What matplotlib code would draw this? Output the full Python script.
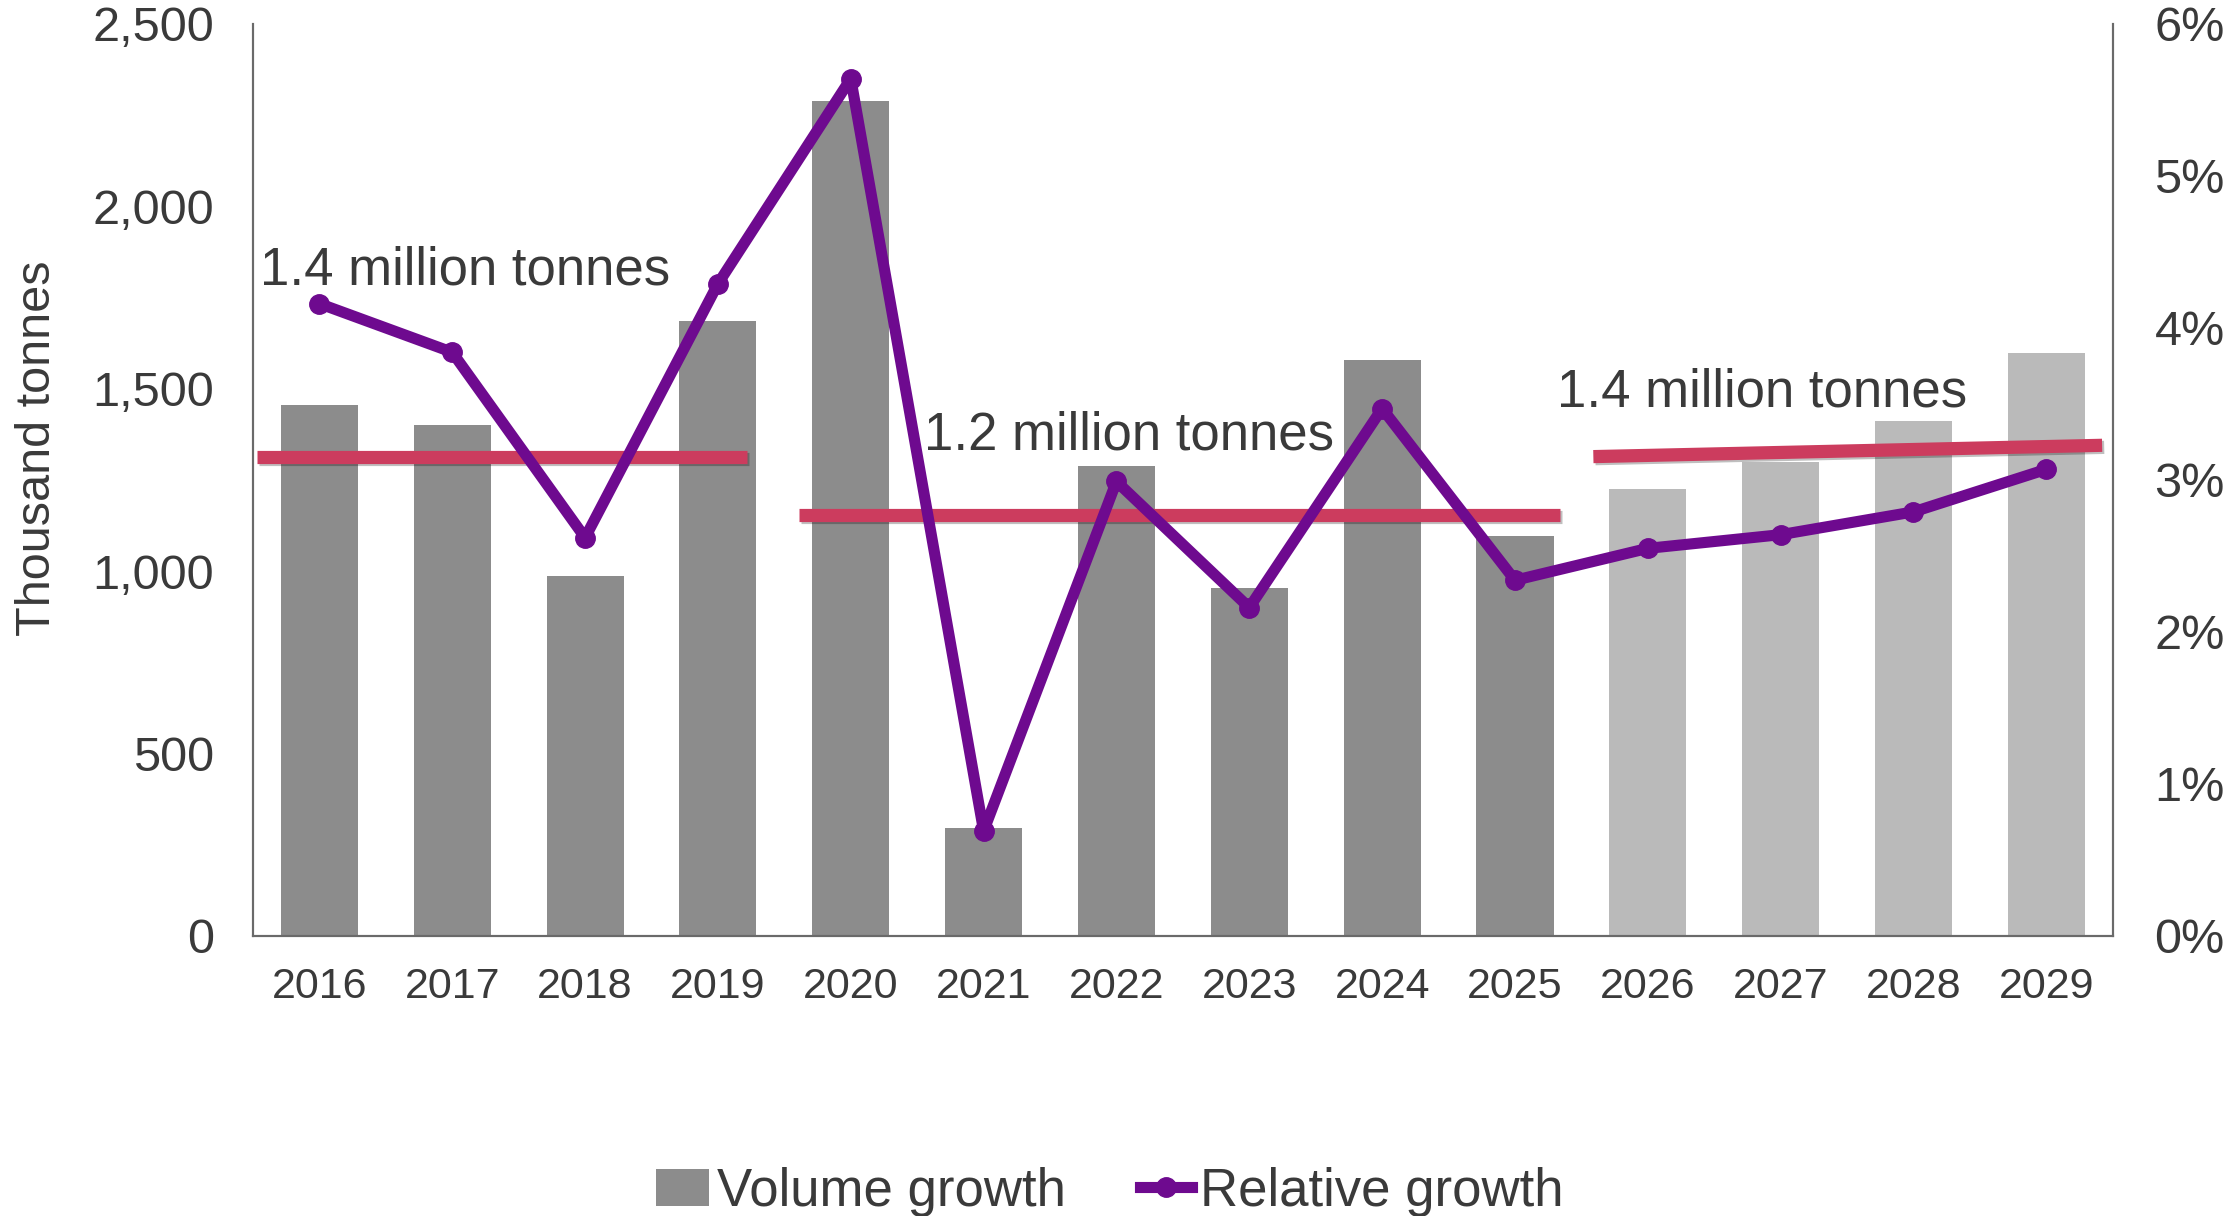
import matplotlib.pyplot as plt
import matplotlib.patheffects as pe
from matplotlib.lines import Line2D
from matplotlib.patches import Patch

plt.rcParams['font.family'] = ['Liberation Sans', 'DejaVu Sans']

# annual volume growth (thousand tonnes) and relative growth (%)
years = ['2016', '2017', '2018', '2019', '2020', '2021', '2022',
         '2023', '2024', '2025', '2026', '2027', '2028', '2029']
volume = [1455, 1400, 987, 1685, 2289, 296, 1287, 955, 1580, 1096,
          1225, 1299, 1412, 1599]
relative = [4.16, 3.84, 2.62, 4.29, 5.64, 0.69, 2.99, 2.16, 3.47, 2.34,
            2.55, 2.64, 2.79, 3.07]
n_actual = 10  # 2026 onwards are forecasts

# period averages: segment ends and labels
avg_x = [(-0.47, 3.22), (3.61, 9.34), (9.59, 13.42)]
avg_y = [(1314, 1314), (1154, 1154), (1314, 1345)]
avg_labels = ['1.4 million tonnes', '1.2 million tonnes', '1.4 million tonnes']
avg_label_pos = [(-0.45, 1825), (4.55, 1373), (9.32, 1490)]

text_col = '#3a3a3a'
bar_dark = '#8c8c8c'
bar_light = '#bababa'
purple = '#6e0a8f'
red = '#cc3c5e'

fig = plt.figure(figsize=(22.31, 12.16), dpi=100)
ax = fig.add_axes([0.1134, 0.2303, 0.8336, 0.75])
x = list(range(len(years)))
colors = [bar_dark if i < n_actual else bar_light for i in x]
ax.bar(x, volume, width=0.58, color=colors, zorder=2)

for (x0, x1), (y0, y1) in zip(avg_x, avg_y):
    ax.plot([x0, x1], [y0, y1], color=red, lw=9.5, solid_capstyle='butt', zorder=3,
            path_effects=[pe.SimpleLineShadow(offset=(1.5, -1.5), alpha=0.25), pe.Normal()])
for lab, (lx, ly) in zip(avg_labels, avg_label_pos):
    ax.text(lx, ly, lab, fontsize=38, color=text_col, ha='left', va='center', zorder=4)

ax.set_xlim(-0.5, len(years) - 0.5)
ax.set_ylim(0, 2500)
ax.set_yticks([0, 500, 1000, 1500, 2000, 2500])
ax.set_yticklabels(['0', '500', '1,000', '1,500', '2,000', '2,500'])
ax.set_xticks(x)
ax.set_xticklabels(years)
ax.tick_params(axis='y', length=0, pad=28, labelsize=35, labelcolor=text_col)
ax.tick_params(axis='x', length=0, pad=22, labelsize=31, labelcolor=text_col)
ax.set_ylabel('Thousand tonnes', fontsize=35, color=text_col)
ax.yaxis.set_label_coords(-0.104, 0.535)

ax2 = ax.twinx()
ax2.plot(x, relative, color=purple, lw=8, marker='o', markersize=14, zorder=5)
ax2.set_ylim(0, 6)
ax2.set_yticks(range(0, 7))
ax2.set_yticklabels([f'{v}%' for v in range(0, 7)])
ax2.tick_params(axis='y', length=0, pad=30, labelsize=35, labelcolor=text_col)

for a in (ax, ax2):
    a.spines['top'].set_visible(False)
    for s in ('left', 'right', 'bottom'):
        a.spines[s].set_color('#6a6a6a')
        a.spines[s].set_linewidth(1.5)

handles = [Patch(facecolor=bar_dark, edgecolor='none'),
           Line2D([0], [0], color=purple, lw=8, marker='o', markersize=14)]
fig.legend(handles, ['Volume growth', 'Relative growth'], loc='center',
           bbox_to_anchor=(0.4975, 0.02), ncol=2, frameon=False, fontsize=38,
           handlelength=1.0, handletextpad=0.15, columnspacing=1.4, labelcolor=text_col)

fig.savefig('out.png', dpi=100)
